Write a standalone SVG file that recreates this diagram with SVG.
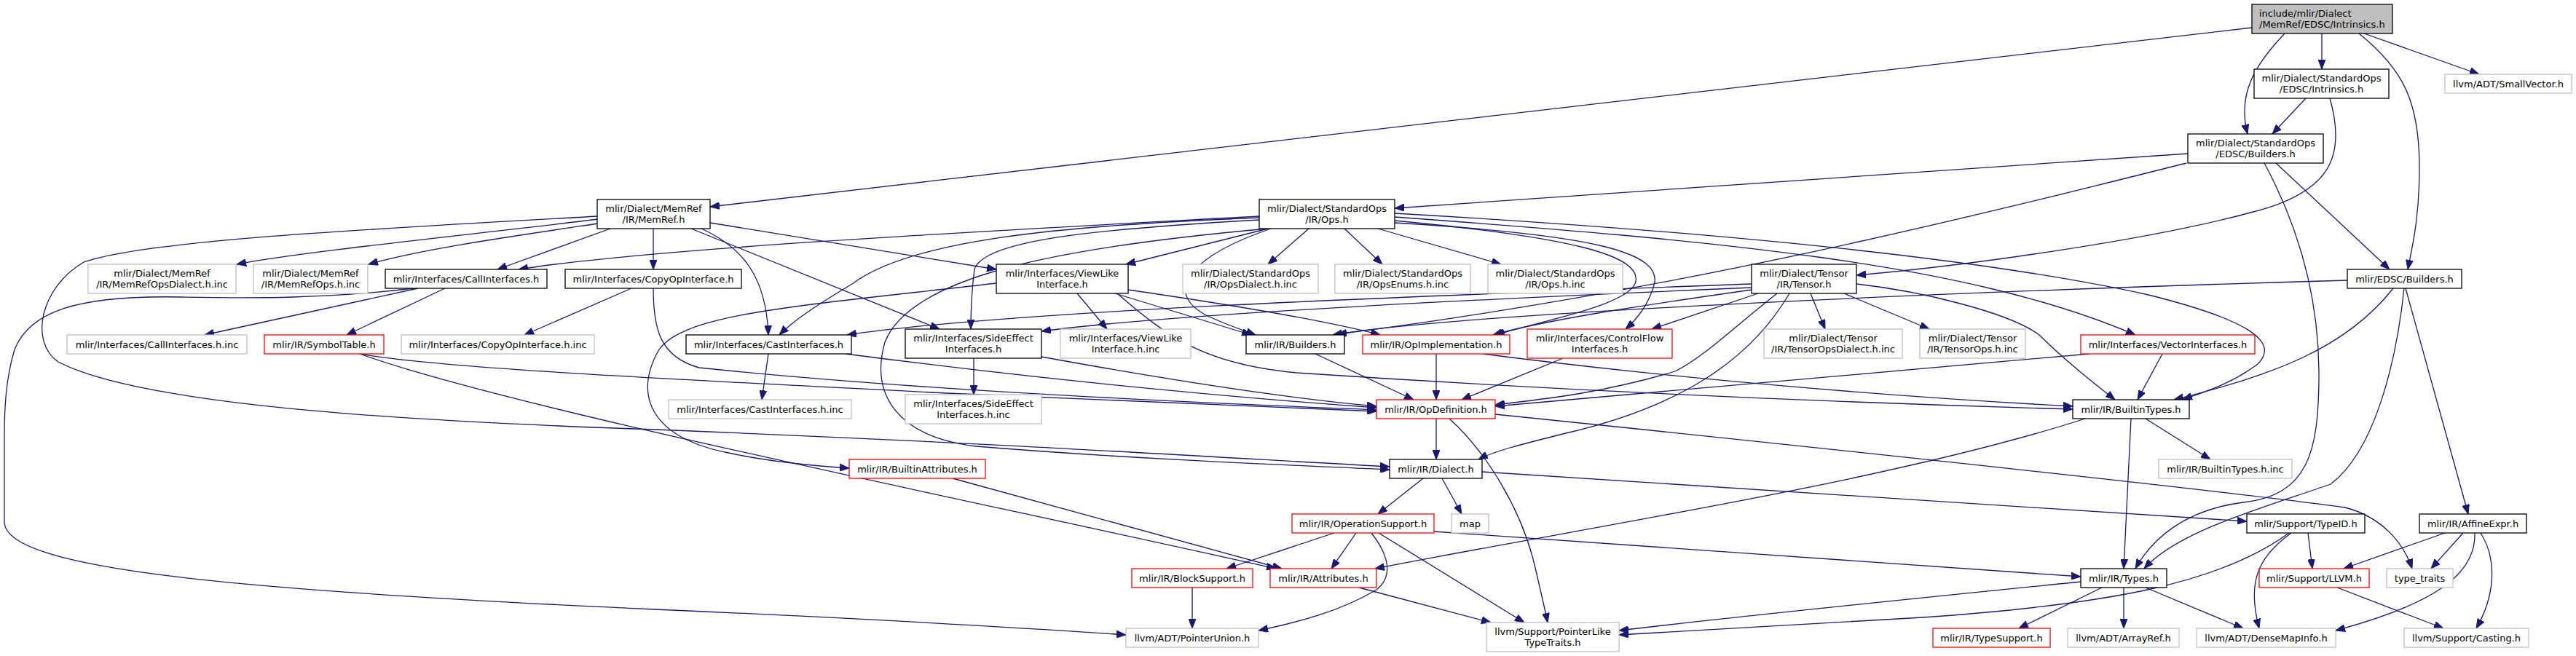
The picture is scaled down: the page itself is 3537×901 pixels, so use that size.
<svg xmlns="http://www.w3.org/2000/svg" width="3537" height="901" viewBox="0 0 3537 901">
<style>
.n rect{fill:#fff;stroke:#000;stroke-width:1.3}
.n.r rect{stroke:#f00}
.n.g rect{stroke:#bfbfbf}
.n.m rect{fill:#bfbfbf}
text{font-family:"DejaVu Sans",sans-serif;font-size:13px;text-anchor:middle;fill:#000}
.n.m text{text-anchor:start}
#edges path{fill:none;stroke:#191970;stroke-width:1.3;marker-end:url(#a)}
</style>
<defs>
<marker id="a" markerWidth="13" markerHeight="10" refX="13" refY="5" orient="auto" markerUnits="userSpaceOnUse"><path d="M0,0 L13,5 L0,10 z" fill="#191970" stroke="#191970" stroke-width="1"/></marker>
</defs>
<rect width="3537" height="901" fill="#fff"/>
<g id="edges">
<path d="M3092,38 L975,284"/>
<path d="M3188,46 L3188,95"/>
<path d="M3137,46 C3095,90 3072,130 3086,184"/>
<path d="M3239,46 C3300,95 3322,140 3322,230 C3322,300 3312,340 3306,370"/>
<path d="M3246,46 L3404,102"/>
<path d="M3166,135 L3120,184"/>
<path d="M3199,135 C3222,215 3200,265 3090,292 C2950,330 2700,365 2549,378"/>
<path d="M3004,211 L1915,286"/>
<path d="M3002,224 C2700,300 2300,400 1836,459"/>
<path d="M3125,224 L3281,370"/>
<path d="M3109,224 C3150,300 3185,400 3184,520 C3183,620 3170,680 3080,690 C3000,700 2955,740 2932,781"/>
<path d="M3303,396 L3389,706"/>
<path d="M3301,396 C3290,500 3260,620 3200,665 C3100,700 2990,730 2944,781"/>
<path d="M3286,396 C3220,480 3120,515 2985,549"/>
<path d="M3223,385 C2700,400 2000,430 1830,460"/>
<path d="M821,301 C650,322 420,345 325,363"/>
<path d="M821,307 C700,325 580,342 506,363"/>
<path d="M838,314 L683,370"/>
<path d="M897,314 L897,370"/>
<path d="M821,297 C500,315 200,330 115,360 C55,395 40,470 80,497 C200,560 600,580 900,590 C1400,610 1700,630 1908,641"/>
<path d="M963,314 C1020,340 1052,380 1055,460"/>
<path d="M949,314 L1290,452"/>
<path d="M975,306 L1368,370"/>
<path d="M1729,297 C1400,315 900,340 712,370"/>
<path d="M1729,299 C1450,310 1250,330 1170,390 C1120,420 1090,440 1070,460"/>
<path d="M1729,302 C1500,315 1350,330 1338,370 C1334,400 1333,430 1333,452"/>
<path d="M1741,314 L1546,363"/>
<path d="M1745,314 C1640,350 1590,400 1660,435 C1690,448 1710,455 1724,460"/>
<path d="M1797,314 L1741,363"/>
<path d="M1846,314 L1898,363"/>
<path d="M1892,314 L2061,363"/>
<path d="M1915,303 C2150,325 2260,350 2245,390 C2230,420 2120,440 2053,460"/>
<path d="M1915,306 C2180,322 2290,345 2270,395 C2262,420 2248,438 2232,452"/>
<path d="M1915,298 C2350,330 2700,360 2932,460"/>
<path d="M1915,293 C2300,315 2700,350 2950,405 C3090,440 3130,470 3100,500 C3060,530 3020,540 2997,549"/>
<path d="M1741,314 C1450,340 1250,380 1215,470 C1195,540 1230,600 1340,613 C1550,630 1750,638 1908,645"/>
<path d="M2486,403 L2506,452"/>
<path d="M2532,403 L2649,452"/>
<path d="M2549,390 C2640,400 2760,430 2800,460 C2840,500 2880,530 2904,549"/>
<path d="M2414,403 L2268,452"/>
<path d="M2405,398 C2250,420 2120,440 2050,460"/>
<path d="M2405,390 C2000,405 1400,425 1163,460"/>
<path d="M2405,395 C2000,412 1600,432 1430,455"/>
<path d="M2440,403 C2380,450 2340,490 2300,510 C2200,540 2120,548 2053,556"/>
<path d="M2457,403 C2400,500 2300,560 2150,595 C2090,610 2050,620 2030,631"/>
<path d="M2969,486 L2935,549"/>
<path d="M2869,486 L2053,558"/>
<path d="M1368,389 C1100,420 940,430 905,480 C870,540 890,600 1000,622 C1060,635 1120,640 1166,643"/>
<path d="M1479,403 L1520,452"/>
<path d="M1531,403 L1718,460"/>
<path d="M1549,398 C1700,420 1820,440 1895,460"/>
<path d="M1534,403 C1600,460 1650,500 1780,512 C2200,540 2600,555 2846,562"/>
<path d="M2036,486 C2300,520 2600,545 2846,558"/>
<path d="M1972,486 L1972,549"/>
<path d="M2146,492 L2007,549"/>
<path d="M1806,486 L1941,549"/>
<path d="M897,396 C897,450 905,490 960,505 C1300,540 1700,555 1890,563"/>
<path d="M1161,486 C1500,530 1750,550 1890,560"/>
<path d="M1430,490 C1650,530 1800,550 1890,558"/>
<path d="M494,486 C600,505 900,520 1300,540 C1600,552 1800,560 1890,565"/>
<path d="M494,486 C700,560 1300,680 1752,781"/>
<path d="M1308,657 L1760,781"/>
<path d="M574,396 L281,460"/>
<path d="M611,396 L476,460"/>
<path d="M568,396 C450,410 350,410 250,408 C100,405 40,430 20,480 C8,520 6,560 6,600 L6,718 C10,780 300,810 900,837 C1200,850 1400,862 1546,872"/>
<path d="M867,396 L720,460"/>
<path d="M1055,486 L1046,549"/>
<path d="M1337,492 L1337,542"/>
<path d="M1972,575 L1972,631"/>
<path d="M1990,575 C2040,620 2090,700 2108,780 C2115,810 2122,840 2125,855"/>
<path d="M2053,569 C2600,625 3100,680 3220,697 C3270,710 3300,745 3312,781"/>
<path d="M1954,657 L1892,706"/>
<path d="M1980,657 L2007,706"/>
<path d="M2035,648 L3085,716"/>
<path d="M1832,732 L1684,781"/>
<path d="M1862,732 L1828,781"/>
<path d="M1883,732 C1905,760 1915,790 1890,810 C1840,840 1780,855 1728,866"/>
<path d="M1893,732 L2093,855"/>
<path d="M1969,730 C2300,755 2600,775 2857,792"/>
<path d="M1866,807 L2047,855"/>
<path d="M1637,807 L1637,863"/>
<path d="M2946,575 L3035,631"/>
<path d="M2926,575 L2916,781"/>
<path d="M2863,575 C2600,660 2200,720 1888,781"/>
<path d="M2886,807 L2772,863"/>
<path d="M2916,807 L2916,863"/>
<path d="M2946,807 L3080,863"/>
<path d="M2857,799 C2600,825 2400,845 2223,866"/>
<path d="M3169,732 L3175,781"/>
<path d="M3146,732 C3100,765 3085,800 3102,863"/>
<path d="M3143,732 C3050,800 2900,830 2640,848 C2450,860 2320,866 2223,872"/>
<path d="M3209,807 L3355,863"/>
<path d="M3357,732 L3218,781"/>
<path d="M3382,732 L3338,781"/>
<path d="M3398,732 C3400,790 3340,830 3207,866"/>
<path d="M3406,732 C3430,770 3425,820 3400,863"/>
</g>
<g id="main" class="n m"><rect x="3092" y="6" width="193" height="40"/><text x="3102" y="23">include/mlir/Dialect</text><text x="3102" y="38">/MemRef/EDSC/Intrinsics.h</text></g>
<g id="sei" class="n"><rect x="3095" y="95" width="185" height="40"/><text x="3187.5" y="112">mlir/Dialect/StandardOps</text><text x="3187.5" y="127">/EDSC/Intrinsics.h</text></g>
<g id="sv" class="n g"><rect x="3357" y="102" width="174" height="26"/><text x="3444" y="119.5">llvm/ADT/SmallVector.h</text></g>
<g id="seb" class="n"><rect x="3004" y="184" width="186" height="40"/><text x="3097" y="201">mlir/Dialect/StandardOps</text><text x="3097" y="216">/EDSC/Builders.h</text></g>
<g id="mr" class="n"><rect x="820" y="274" width="155" height="40"/><text x="897.5" y="291">mlir/Dialect/MemRef</text><text x="897.5" y="306">/IR/MemRef.h</text></g>
<g id="ops" class="n"><rect x="1729" y="274" width="186" height="40"/><text x="1822" y="291">mlir/Dialect/StandardOps</text><text x="1822" y="306">/IR/Ops.h</text></g>
<g id="eb" class="n"><rect x="3223" y="370" width="157" height="26"/><text x="3301.5" y="387.5">mlir/EDSC/Builders.h</text></g>
<g id="mrod" class="n g"><rect x="121" y="363" width="203" height="40"/><text x="222.5" y="380">mlir/Dialect/MemRef</text><text x="222.5" y="395">/IR/MemRefOpsDialect.h.inc</text></g>
<g id="mro" class="n g"><rect x="348" y="363" width="157" height="40"/><text x="426.5" y="380">mlir/Dialect/MemRef</text><text x="426.5" y="395">/IR/MemRefOps.h.inc</text></g>
<g id="ci" class="n"><rect x="529" y="370" width="222" height="26"/><text x="640" y="387.5">mlir/Interfaces/CallInterfaces.h</text></g>
<g id="co" class="n"><rect x="776" y="370" width="242" height="26"/><text x="897" y="387.5">mlir/Interfaces/CopyOpInterface.h</text></g>
<g id="vl" class="n"><rect x="1368" y="363" width="181" height="40"/><text x="1458.5" y="380">mlir/Interfaces/ViewLike</text><text x="1458.5" y="395">Interface.h</text></g>
<g id="od" class="n g"><rect x="1624" y="363" width="186" height="40"/><text x="1717" y="380">mlir/Dialect/StandardOps</text><text x="1717" y="395">/IR/OpsDialect.h.inc</text></g>
<g id="oe" class="n g"><rect x="1833" y="363" width="186" height="40"/><text x="1926" y="380">mlir/Dialect/StandardOps</text><text x="1926" y="395">/IR/OpsEnums.h.inc</text></g>
<g id="oi" class="n g"><rect x="2043" y="363" width="185" height="40"/><text x="2135.5" y="380">mlir/Dialect/StandardOps</text><text x="2135.5" y="395">/IR/Ops.h.inc</text></g>
<g id="t" class="n"><rect x="2405" y="363" width="144" height="40"/><text x="2477" y="380">mlir/Dialect/Tensor</text><text x="2477" y="395">/IR/Tensor.h</text></g>
<g id="ciinc" class="n g"><rect x="92" y="460" width="247" height="26"/><text x="215.5" y="477.5">mlir/Interfaces/CallInterfaces.h.inc</text></g>
<g id="st" class="n r"><rect x="363" y="460" width="164" height="26"/><text x="445" y="477.5">mlir/IR/SymbolTable.h</text></g>
<g id="coinc" class="n g"><rect x="551" y="460" width="265" height="26"/><text x="683.5" y="477.5">mlir/Interfaces/CopyOpInterface.h.inc</text></g>
<g id="cast" class="n"><rect x="942" y="460" width="227" height="26"/><text x="1055.5" y="477.5">mlir/Interfaces/CastInterfaces.h</text></g>
<g id="se" class="n"><rect x="1243" y="452" width="187" height="40"/><text x="1336.5" y="469">mlir/Interfaces/SideEffect</text><text x="1336.5" y="484">Interfaces.h</text></g>
<g id="vlinc" class="n g"><rect x="1456" y="452" width="179" height="40"/><text x="1545.5" y="469">mlir/Interfaces/ViewLike</text><text x="1545.5" y="484">Interface.h.inc</text></g>
<g id="b" class="n"><rect x="1711" y="460" width="135" height="26"/><text x="1778.5" y="477.5">mlir/IR/Builders.h</text></g>
<g id="opi" class="n r"><rect x="1871" y="460" width="202" height="26"/><text x="1972" y="477.5">mlir/IR/OpImplementation.h</text></g>
<g id="cf" class="n r"><rect x="2097" y="452" width="199" height="40"/><text x="2196.5" y="469">mlir/Interfaces/ControlFlow</text><text x="2196.5" y="484">Interfaces.h</text></g>
<g id="tod" class="n g"><rect x="2422" y="452" width="190" height="40"/><text x="2517" y="469">mlir/Dialect/Tensor</text><text x="2517" y="484">/IR/TensorOpsDialect.h.inc</text></g>
<g id="to" class="n g"><rect x="2636" y="452" width="145" height="40"/><text x="2708.5" y="469">mlir/Dialect/Tensor</text><text x="2708.5" y="484">/IR/TensorOps.h.inc</text></g>
<g id="vi" class="n r"><rect x="2857" y="460" width="239" height="26"/><text x="2976.5" y="477.5">mlir/Interfaces/VectorInterfaces.h</text></g>
<g id="castinc" class="n g"><rect x="918" y="549" width="251" height="26"/><text x="1043.5" y="566.5">mlir/Interfaces/CastInterfaces.h.inc</text></g>
<g id="seinc" class="n g"><rect x="1243" y="542" width="187" height="40"/><text x="1336.5" y="559">mlir/Interfaces/SideEffect</text><text x="1336.5" y="574">Interfaces.h.inc</text></g>
<g id="opd" class="n r"><rect x="1890" y="549" width="163" height="26"/><text x="1971.5" y="566.5">mlir/IR/OpDefinition.h</text></g>
<g id="bt" class="n"><rect x="2846" y="549" width="160" height="26"/><text x="2926" y="566.5">mlir/IR/BuiltinTypes.h</text></g>
<g id="ba" class="n r"><rect x="1166" y="631" width="187" height="26"/><text x="1259.5" y="648.5">mlir/IR/BuiltinAttributes.h</text></g>
<g id="d" class="n"><rect x="1908" y="631" width="127" height="26"/><text x="1971.5" y="648.5">mlir/IR/Dialect.h</text></g>
<g id="btinc" class="n g"><rect x="2964" y="631" width="183" height="26"/><text x="3055.5" y="648.5">mlir/IR/BuiltinTypes.h.inc</text></g>
<g id="os" class="n r"><rect x="1774" y="706" width="195" height="26"/><text x="1871.5" y="723.5">mlir/IR/OperationSupport.h</text></g>
<g id="map" class="n g"><rect x="1993" y="706" width="51" height="26"/><text x="2018.5" y="723.5">map</text></g>
<g id="tid" class="n"><rect x="3085" y="706" width="162" height="26"/><text x="3166" y="723.5">mlir/Support/TypeID.h</text></g>
<g id="ae" class="n"><rect x="3322" y="706" width="147" height="26"/><text x="3395.5" y="723.5">mlir/IR/AffineExpr.h</text></g>
<g id="bs" class="n r"><rect x="1554" y="781" width="166" height="26"/><text x="1637" y="798.5">mlir/IR/BlockSupport.h</text></g>
<g id="attr" class="n r"><rect x="1744" y="781" width="146" height="26"/><text x="1817" y="798.5">mlir/IR/Attributes.h</text></g>
<g id="ty" class="n"><rect x="2857" y="781" width="118" height="26"/><text x="2916" y="798.5">mlir/IR/Types.h</text></g>
<g id="llvm" class="n r"><rect x="3102" y="781" width="151" height="26"/><text x="3177.5" y="798.5">mlir/Support/LLVM.h</text></g>
<g id="tt" class="n g"><rect x="3277" y="781" width="91" height="26"/><text x="3322.5" y="798.5">type_traits</text></g>
<g id="pu" class="n g"><rect x="1546" y="863" width="182" height="26"/><text x="1637" y="880.5">llvm/ADT/PointerUnion.h</text></g>
<g id="pl" class="n g"><rect x="2041" y="855" width="182" height="40"/><text x="2132" y="872">llvm/Support/PointerLike</text><text x="2132" y="887">TypeTraits.h</text></g>
<g id="ts" class="n r"><rect x="2654" y="863" width="161" height="26"/><text x="2734.5" y="880.5">mlir/IR/TypeSupport.h</text></g>
<g id="ar" class="n g"><rect x="2839" y="863" width="153" height="26"/><text x="2915.5" y="880.5">llvm/ADT/ArrayRef.h</text></g>
<g id="dmi" class="n g"><rect x="3016" y="863" width="191" height="26"/><text x="3111.5" y="880.5">llvm/ADT/DenseMapInfo.h</text></g>
<g id="cas" class="n g"><rect x="3301" y="863" width="171" height="26"/><text x="3386.5" y="880.5">llvm/Support/Casting.h</text></g>
</svg>
